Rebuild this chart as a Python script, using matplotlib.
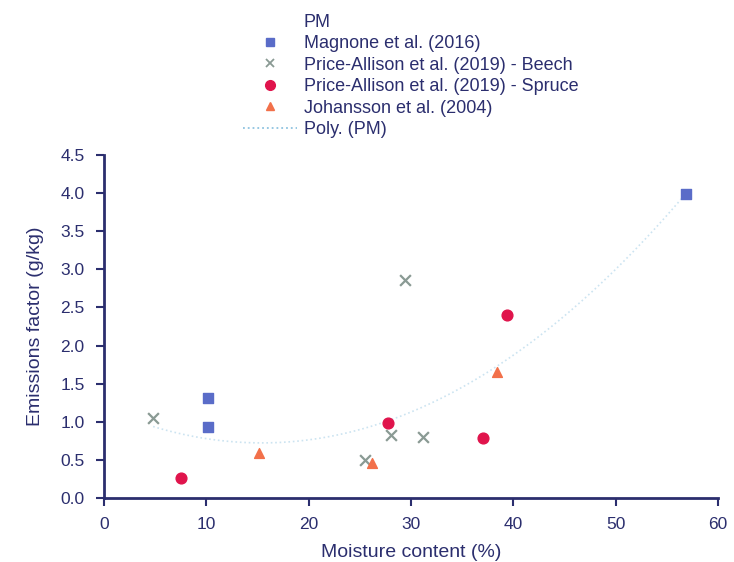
import numpy as np
import matplotlib
matplotlib.use("Agg")
import matplotlib.pyplot as plt
from matplotlib.lines import Line2D

plt.rcParams['font.family'] = ['Liberation Sans', 'DejaVu Sans']

# Emission factors of particulate matter vs. fuel moisture content
magnone_x = [10.2, 10.2, 56.9]
magnone_y = [1.31, 0.93, 3.99]

beech_x = [4.8, 29.4, 25.5, 28.0, 31.2]
beech_y = [1.05, 2.86, 0.50, 0.83, 0.80]

spruce_x = [7.5, 27.8, 37.0, 39.4]
spruce_y = [0.26, 0.98, 0.79, 2.40]

johansson_x = [15.1, 26.2, 38.4]
johansson_y = [0.59, 0.46, 1.65]

x_ticks = [0, 10, 20, 30, 40, 50, 60]
y_ticks = [0.0, 0.5, 1.0, 1.5, 2.0, 2.5, 3.0, 3.5, 4.0, 4.5]

navy = '#2b2e6e'
c_mag = '#5a6cc8'
c_beech = '#8a9a94'
c_spruce = '#e0144c'
c_joh = '#f2704a'
c_poly = '#8fc3e0'

fig = plt.figure(figsize=(7.34, 5.62), dpi=100)
ax = fig.add_axes([0.1417, 0.1139, 0.8365, 0.6103])

ax.scatter(magnone_x, magnone_y, marker='s', s=50, color=c_mag, zorder=3)
ax.scatter(beech_x, beech_y, marker='x', s=60, color=c_beech, linewidths=1.6, zorder=3)
ax.scatter(spruce_x, spruce_y, marker='o', s=60, color=c_spruce, zorder=3)
ax.scatter(johansson_x, johansson_y, marker='^', s=50, color=c_joh, zorder=3)

# second-order polynomial trend through all PM points
all_x = np.array(magnone_x + beech_x + spruce_x + johansson_x)
all_y = np.array(magnone_y + beech_y + spruce_y + johansson_y)
coef = np.polyfit(all_x, all_y, 2)
xs = np.linspace(all_x.min(), all_x.max(), 200)
ax.plot(xs, np.polyval(coef, xs), linestyle=':', color=c_poly, linewidth=1.2, alpha=0.45, zorder=2)

ax.set_xlim(0, 60)
ax.set_ylim(0, 4.5)
ax.set_xticks(x_ticks)
ax.set_yticks(y_ticks)
ax.set_xticklabels([str(t) for t in x_ticks])
ax.set_yticklabels([f"{t:.1f}" for t in y_ticks])

for s in ['top', 'right']:
    ax.spines[s].set_visible(False)
for s in ['left', 'bottom']:
    ax.spines[s].set_color(navy)
    ax.spines[s].set_linewidth(2)
ax.tick_params(axis='both', colors=navy, labelcolor=navy, labelsize=12.5,
               direction='out', length=6, width=1.5)
ax.tick_params(axis='x', pad=8)
ax.tick_params(axis='y', pad=8)

ax.set_xlabel('Moisture content (%)', color=navy, fontsize=14, labelpad=8)
ax.set_ylabel('Emissions factor (g/kg)', color=navy, fontsize=14, labelpad=12)

handles = [
    Line2D([], [], linestyle='none', marker='None'),
    Line2D([], [], linestyle='none', marker='s', color=c_mag, markersize=6),
    Line2D([], [], linestyle='none', marker='x', color=c_beech, markersize=6, markeredgewidth=1.3),
    Line2D([], [], linestyle='none', marker='o', color=c_spruce, markersize=7),
    Line2D([], [], linestyle='none', marker='^', color=c_joh, markersize=6),
    Line2D([], [], linestyle=':', color=c_poly, linewidth=1.3),
]
labels = ['PM', 'Magnone et al. (2016)', 'Price-Allison et al. (2019) - Beech',
          'Price-Allison et al. (2019) - Spruce', 'Johansson et al. (2004)', 'Poly. (PM)']
leg = fig.legend(handles, labels, loc='upper left', bbox_to_anchor=(0.312, 1.0),
                 frameon=False, fontsize=13, handlelength=3.0, handletextpad=0.4,
                 labelspacing=0.25, borderaxespad=0.35)
for t in leg.get_texts():
    t.set_color(navy)

fig.savefig('out.png', dpi=100)
